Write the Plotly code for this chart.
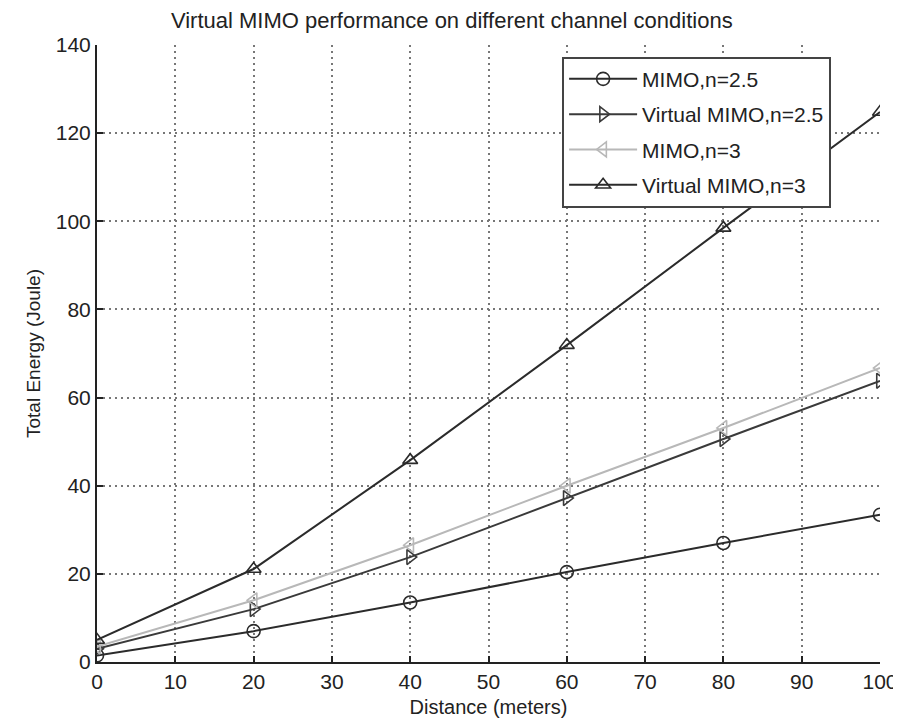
import plotly.graph_objects as go

distance = [0, 20, 40, 60, 80, 100]
mimo_25 = [1.5, 7.0, 13.5, 20.4, 27.0, 33.4]
vmimo_25 = [3.0, 12.0, 23.8, 37.2, 50.6, 63.8]
mimo_3 = [3.5, 14.0, 26.5, 40.0, 53.1, 66.7]
vmimo_3 = [5.0, 21.1, 45.8, 71.9, 98.5, 124.8]

series = [
    ("MIMO,n=2.5", mimo_25, "circle-open", "#2b2b2b"),
    ("Virtual MIMO,n=2.5", vmimo_25, "triangle-right-open", "#3a3a3a"),
    ("MIMO,n=3", mimo_3, "triangle-left-open", "#b8b8b8"),
    ("Virtual MIMO,n=3", vmimo_3, "triangle-up-open", "#2b2b2b"),
]

fig = go.Figure()
for i, (name, ys, sym, col) in enumerate(series):
    fig.add_trace(go.Scatter(
        x=distance, y=ys, name=name, mode="lines+markers",
        line=dict(color=col, width=2),
        marker=dict(symbol=sym, size=13, color=col, line=dict(width=1.6, color=col)),
        legendgroup=f"g{i}",
    ))

font = "Liberation Sans, Arial, sans-serif"
# page body has an 8px margin; figure sized so plot area lands at x 97-880, y 45-662
fig.update_layout(
    width=893, height=720,
    margin=dict(l=89, r=21, t=37, b=66, autoexpand=False),
    paper_bgcolor="white", plot_bgcolor="white",
    title=dict(text="Virtual MIMO performance on different channel conditions",
               x=0.497, xanchor="center", y=1 - 12 / 720, yanchor="middle",
               pad=dict(t=0, b=0),
               font=dict(family=font, size=22, color="#222")),
    font=dict(family=font, color="#222"),
    legend=dict(x=0.594, y=0.981, xanchor="left", yanchor="top",
                bgcolor="white", bordercolor="#444", borderwidth=2,
                font=dict(family=font, size=21, color="#222"),
                traceorder="grouped", tracegroupgap=5, itemwidth=68),
    showlegend=True,
)
fig.update_xaxes(range=[0, 100], tickvals=list(range(0, 101, 10)), automargin=False,
                 showline=True, linecolor="#222", linewidth=2,
                 ticks="inside", ticklen=6, tickcolor="#222", tickwidth=2,
                 showgrid=True, gridcolor="#777", griddash="2px,4px", gridwidth=2,
                 zeroline=False, tickfont=dict(size=21, family=font, color="#222"),
                 title=dict(text="Distance (meters)", standoff=8,
                            font=dict(size=20, family=font, color="#222")))
fig.update_yaxes(range=[0, 140], tickvals=list(range(0, 141, 20)), automargin=False,
                 showline=True, linecolor="#222", linewidth=2,
                 ticks="inside", ticklen=6, tickcolor="#222", tickwidth=2,
                 showgrid=True, gridcolor="#777", griddash="2px,4px", gridwidth=2,
                 zeroline=False, tickfont=dict(size=21, family=font, color="#222"),
                 title=dict(text="Total Energy (Joule)", standoff=10,
                            font=dict(size=19, family=font, color="#222")))
fig.write_html("out.html")
